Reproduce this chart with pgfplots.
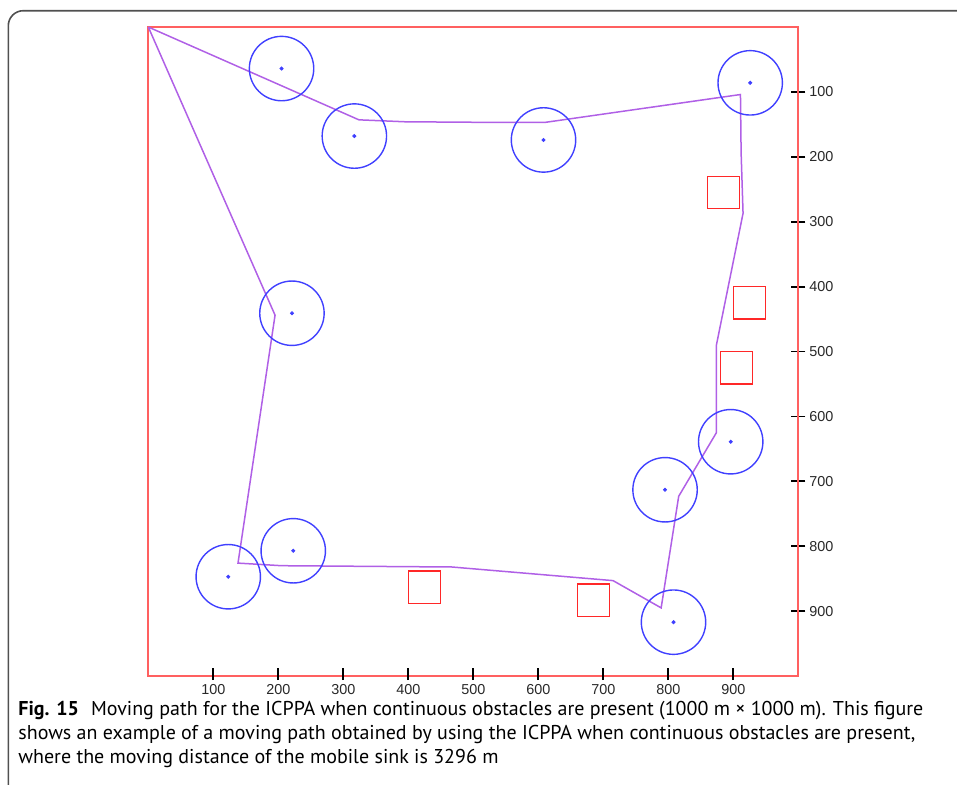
\documentclass[border=0pt]{standalone}
\usepackage{fontspec}
\setmainfont{PT Sans}
\newfontfamily\tickfont{Liberation Sans}
\usepackage{pgfplots}
\pgfplotsset{compat=1.18}

\definecolor{framered}{RGB}{255,96,96}
\definecolor{obstred}{RGB}{255,40,40}
\definecolor{circblue}{RGB}{64,64,255}
\definecolor{pathviolet}{RGB}{176,96,230}
\definecolor{framegray}{RGB}{80,80,80}
\definecolor{ticktext}{RGB}{40,40,40}

% sensor cluster centres (communication range 50 m)
\pgfplotstableread{
x   y
205 64
317 168
608 174
926 86
221 441
896 639
795 713
123 847
223 807
808 917
}\clusters

% obstacle centres (50 m x 50 m)
\pgfplotstableread{
x   y
885 255
925 425
905 525
425 863
685 883
}\obstacles

% moving path of the mobile sink
\pgfplotstableread{
x   y
0   0
324 143
395 146
535 147
610 147
911 104
912 193
915 287
874 490
874 625
816 723
789 895
715 853
467 832
205 830
138 826
195 444
0   0
}\sinkpath

\pgfplotsset{
  fieldaxis/.style={
    scale only axis, width=325pt,
    xmin=0, xmax=1000,
    /pgf/number format/assume math mode=true,
    ticklabel style={font=\tickfont\fontsize{7.2}{8}\selectfont, text=ticktext},
  },
}

\begin{document}
\begin{tikzpicture}
\useasboundingbox (0,0) rectangle (478.5pt,-392pt);
% outer frame of the figure box
\draw[framegray, line width=0.8pt]
  (490pt,-5.35pt) -- (11.65pt,-5.35pt)
  arc[start angle=90, end angle=180, radius=7.5pt] -- (4.15pt,-400pt);

% field: y grows downwards, y scale on the right
\begin{axis}[
  fieldaxis,
  at={(74.15pt,-338pt)}, anchor=south west, height=324.5pt,
  ymin=0, ymax=1000, y dir=reverse,
  axis line style={framered, line width=1pt},
  xtick=\empty, ytick={100,200,...,900},
  ytick pos=right, yticklabel pos=right,
  tick align=center, major tick length=7pt,
  ytick style={black, line width=0.9pt},
  yticklabel style={xshift=-1.5pt},
  clip=false,
]
\addplot[only marks, mark=square, mark size=8.1pt,
  mark options={obstred, line width=0.7pt}] table {\obstacles};
\addplot[pathviolet, line width=0.75pt] table {\sinkpath};
\addplot[only marks, mark=o, mark size=16.1pt,
  mark options={circblue, line width=0.7pt}] table {\clusters};
\addplot[only marks, mark=*, mark size=0.8pt,
  mark options={circblue}] table {\clusters};
\end{axis}

% x scale: a thin strip across the bottom edge whose grid lines are the ticks
\begin{axis}[
  fieldaxis,
  at={(74.15pt,-340pt)}, anchor=south west, height=6pt,
  ymin=0, ymax=1,
  axis line style={draw=none},
  ytick=\empty,
  xtick={100,200,...,900},
  xmajorgrids, grid style={black, line width=0.9pt},
  major tick length=0pt,
  xticklabel style={inner sep=0pt, yshift=-1.8pt},
]
\end{axis}

\begin{scope}[every node/.style={anchor=base west, inner sep=0pt,
    font=\fontsize{10}{12}\selectfont}]
\node at (9pt,-357.5pt) {\textbf{Fig. 15}\hspace{6pt}Moving path for the ICPPA when continuous obstacles are present (1000 m × 1000 m). This figure};
\node at (9pt,-369.5pt) {shows an example of a moving path obtained by using the ICPPA when continuous obstacles are present,};
\node at (9pt,-381.5pt) {where the moving distance of the mobile sink is 3296 m};
\end{scope}
\end{tikzpicture}
\end{document}
